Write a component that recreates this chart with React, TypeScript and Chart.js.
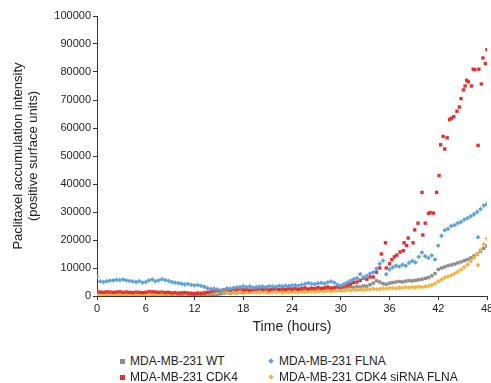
import React, { useEffect, useRef } from "react";
import { Chart, registerables } from "chart.js";

Chart.register(...registerables);

// Sampling times (hours) for the regularly measured series
const timeHours = [
  0, 0.4, 0.8, 1.2, 1.6, 2, 2.4, 2.8, 3.2, 3.6,
  4, 4.4, 4.8, 5.2, 5.6, 6, 6.4, 6.8, 7.2, 7.6,
  8, 8.4, 8.8, 9.2, 9.6, 10, 10.4, 10.8, 11.2, 11.6,
  12, 12.4, 12.8, 13.2, 13.6, 14, 14.4, 14.8, 15.2, 15.6,
  16, 16.4, 16.8, 17.2, 17.6, 18, 18.4, 18.8, 19.2, 19.6,
  20, 20.4, 20.8, 21.2, 21.6, 22, 22.4, 22.8, 23.2, 23.6,
  24, 24.4, 24.8, 25.2, 25.6, 26, 26.4, 26.8, 27.2, 27.6,
  28, 28.4, 28.8, 29.2, 29.6, 30, 30.4, 30.8, 31.2, 31.6,
  32, 32.4, 32.8, 33.2, 33.6, 34, 34.4, 34.8, 35.2, 35.6,
  36, 36.4, 36.8, 37.2, 37.6, 38, 38.4, 38.8, 39.2, 39.6,
  40, 40.4, 40.8, 41.2, 41.6, 42, 42.4, 42.8, 43.2, 43.6,
  44, 44.4, 44.8, 45.2, 45.6, 46, 46.4, 46.8, 47.2, 47.6,
  48,
];

// Values in thousands of units
const wtValues = [
  0.6, 0.5, 0.5, 0.4, 0.5, 0.4, 0.5, 0.4, 0.4, 0.5,
  0.4, 0.5, 0.4, 0.4, 0.5, 0.4, 0.3, 0.4, 0.4, 0.5,
  0.4, 0.3, 0.4, 0.3, 0.4, 0.3, 0.4, 0.3, 0.4, 0.4,
  0.3, 0.3, 0.4, 0.3, 0.4, 0.5, 0.4, 0.6, 0.8, 1.0,
  1.2, 1.0, 1.3, 1.1, 1.4, 1.2, 1.5, 1.3, 1.6, 1.5,
  1.7, 1.6, 1.8, 1.7, 1.9, 1.8, 2.0, 1.9, 2.1, 2.0,
  2.2, 2.1, 2.3, 2.2, 2.4, 2.3, 2.5, 2.6, 2.4, 2.7,
  2.6, 2.8, 2.7, 2.9, 3.0, 2.8, 3.1, 3.2, 3.3, 3.0,
  3.4, 3.2, 3.6, 3.5, 4.0, 4.6, 5.4, 5.0, 4.4, 4.2,
  4.6, 4.8, 5.0, 5.2, 5.0, 5.3, 5.5, 5.4, 5.6, 5.8,
  6.0, 6.3, 6.6, 7.2, 8.0, 9.5, 10.0, 10.4, 10.8, 11.1,
  11.4, 11.8, 12.2, 12.6, 13.0, 13.6, 14.3, 15.0, 16.0, 17.0,
  17.8,
];

const flnaValues = [
  6.8, 5.2, 5.0, 5.3, 5.5, 5.6, 5.8, 5.7, 5.9, 5.6,
  5.4, 5.2, 5.0, 5.3, 4.8, 5.0, 5.6, 5.9, 5.3, 5.6,
  6.0, 5.7, 5.4, 5.0, 4.8, 4.6, 4.4, 4.1, 4.3, 4.0,
  3.8, 3.9, 3.6, 3.3, 2.8, 2.5, 2.6, 2.4, 2.0, 2.1,
  2.7, 2.6, 2.9, 3.1, 3.2, 3.5, 3.2, 3.4, 3.0, 3.2,
  3.3, 3.4, 3.2, 3.5, 3.4, 3.3, 3.6, 3.5, 3.7, 3.6,
  3.8, 3.9, 3.7, 4.0, 4.3, 4.6, 4.4, 4.2, 4.5, 4.7,
  4.4, 4.9, 5.2, 4.8, 4.0, 3.7, 4.2, 4.8, 5.5, 6.0,
  6.4, 7.8, 6.6, 7.2, 8.0, 8.5, 9.8, 11.5, 12.6, 7.8,
  9.5, 10.2, 10.8, 10.5, 11.2, 10.8, 11.8, 12.5, 12.0, 14.0,
  15.5, 14.2, 13.6, 14.5, 13.0, 18.0, 21.5, 23.5, 24.0, 25.0,
  25.3, 26.0, 26.5, 27.3, 27.8, 28.5, 29.2, 30.0, 31.0, 32.3,
  32.8,
];
const flnaExtraTimes = [46.9];
const flnaExtraValues = [21.0];

const sirnaValues = [
  0.4, 0.5, 0.5, 0.6, 0.5, 0.6, 0.5, 0.6, 0.5, 0.6,
  0.5, 0.6, 0.5, 0.6, 0.5, 0.6, 0.5, 0.6, 0.7, 0.6,
  0.6, 0.7, 0.6, 0.8, 0.7, 0.9, 1.0, 0.8, 1.0, 1.1,
  1.0, 1.2, 1.1, 1.3, 1.0, 1.2, 1.4, 1.3, 1.6, 1.5,
  1.4, 1.3, 1.5, 1.2, 1.4, 1.6, 1.3, 1.5, 1.4, 1.3,
  1.2, 1.4, 1.3, 1.2, 1.4, 1.3, 1.5, 1.2, 1.4, 1.3,
  1.4, 1.5, 1.3, 1.6, 1.4, 1.5, 1.7, 1.5, 1.6, 1.8,
  1.6, 1.8, 1.7, 1.9, 1.8, 2.0, 1.9, 2.1, 2.0, 2.2,
  2.1, 2.3, 2.2, 2.4, 2.3, 2.6, 2.4, 2.5, 2.7, 2.6,
  2.8, 2.9, 2.7, 3.0, 2.9, 3.1, 3.0, 3.2, 3.1, 3.3,
  3.2, 3.4, 3.6, 3.9, 4.4, 5.2, 5.9, 6.6, 7.0, 7.4,
  8.0, 8.6, 9.4, 10.3, 11.2, 12.4, 13.6, 15.0, 16.5, 18.5,
  20.5,
];
const sirnaExtraTimes = [46.9];
const sirnaExtraValues = [11.0];

// CDK4: regular sampling up to 34.8 h, then sparse readings
const cdk4Times = [
  0, 0.4, 0.8, 1.2, 1.6, 2, 2.4, 2.8, 3.2, 3.6,
  4, 4.4, 4.8, 5.2, 5.6, 6, 6.4, 6.8, 7.2, 7.6,
  8, 8.4, 8.8, 9.2, 9.6, 10, 10.4, 10.8, 11.2, 11.6,
  12, 12.4, 12.8, 13.2, 13.6, 14, 14.4, 14.8, 15.2, 15.6,
  16, 16.4, 16.8, 17.2, 17.6, 18, 18.4, 18.8, 19.2, 19.6,
  20, 20.4, 20.8, 21.2, 21.6, 22, 22.4, 22.8, 23.2, 23.6,
  24, 24.4, 24.8, 25.2, 25.6, 26, 26.4, 26.8, 27.2, 27.6,
  28, 28.4, 28.8, 29.2, 29.6, 30, 30.4, 30.8, 31.2, 31.6,
  32, 32.4, 32.8, 33.2, 33.6, 34, 34.4, 34.8,
  35.0, 35.5, 35.6, 36.0, 36.3, 36.6, 36.9, 37.3, 37.7, 37.8,
  38.1, 38.3, 38.9, 39.1, 39.5, 40.0, 40.1, 40.4, 40.8, 41.0,
  41.4, 41.8, 42.1, 42.3, 42.6, 42.8, 43.1, 43.4, 43.6, 43.9,
  44.3, 44.6, 44.8, 45.1, 45.3, 45.5, 45.7, 46.1, 46.3, 46.5,
  46.9, 47.0, 47.3, 47.5, 47.8, 48.0,
];
const cdk4Values = [
  1.6, 1.4, 1.3, 1.5, 1.4, 1.3, 1.4, 1.5, 1.3, 1.4,
  1.3, 1.2, 1.4, 1.3, 1.2, 1.3, 1.6, 1.5, 1.4, 1.3,
  1.4, 1.2, 1.3, 1.1, 1.2, 1.0, 1.1, 1.2, 1.0, 0.9,
  0.8, 1.0, 0.9, 1.1, 1.3, 1.5, 1.8, 2.0, 1.9, 2.2,
  2.4, 2.1, 2.5, 2.3, 2.6, 2.2, 2.4, 2.1, 2.3, 2.5,
  2.8, 2.4, 2.6, 2.2, 2.5, 2.7, 2.3, 2.6, 2.4, 2.8,
  2.5, 2.7, 2.4, 2.6, 2.9, 2.5, 2.8, 2.6, 3.0, 2.7,
  2.9, 3.2, 2.8, 3.0, 3.4, 3.1, 3.6, 3.9, 4.3, 4.8,
  5.0, 5.6, 6.4, 6.0, 6.8, 6.8, 8.5, 10.0,
  15.0, 19.0, 10.0, 11.5, 13.0, 14.0, 14.6, 15.7, 16.2, 19.0,
  18.0, 20.7, 19.0, 23.6, 26.0, 37.0, 21.8, 26.0, 29.5, 29.8,
  29.6, 37.0, 43.0, 54.0, 57.0, 52.5, 56.5, 63.0, 63.5, 64.0,
  66.0, 67.5, 70.5, 73.6, 75.0, 77.0, 76.5, 75.0, 81.0, 80.8,
  53.8, 81.0, 75.7, 85.0, 83.0, 88.0,
];

const yTicks = [0, 10000, 20000, 30000, 40000, 50000, 60000, 70000, 80000, 90000, 100000];
const xTicks = [0, 6, 12, 18, 24, 30, 36, 42, 48];

const seriesNames = [
  "MDA-MB-231 WT",
  "MDA-MB-231 FLNA",
  "MDA-MB-231 CDK4",
  "MDA-MB-231 CDK4 siRNA FLNA",
];

const COLORS = {
  wt: "#8e8e8e",
  flna: "#5ea3dc",
  cdk4: "#e4302c",
  sirna: "#f7b23b",
};

function pts(times: number[], vals: number[]) {
  return times.map((t, i) => ({ x: t, y: vals[i] * 1000 }));
}

const FONT = "'Liberation Sans', Arial, Helvetica, sans-serif";

export default function App() {
  const ref = useRef<HTMLCanvasElement | null>(null);

  useEffect(() => {
    if (!ref.current) return;
    const mk = (label: string, data: any[], color: string, style: string, radius: number, order: number) => ({
      type: "scatter" as const,
      label,
      data,
      backgroundColor: color,
      borderColor: color,
      borderWidth: 0,
      pointStyle: style,
      pointRadius: radius,
      pointHoverRadius: radius,
      order,
    });
    const chart = new Chart(ref.current, {
      type: "scatter",
      data: {
        datasets: [
          mk(seriesNames[1], pts(timeHours, flnaValues).concat(pts(flnaExtraTimes, flnaExtraValues)), COLORS.flna, "rectRot", 2.4, 1),
          mk(seriesNames[2], pts(cdk4Times, cdk4Values), COLORS.cdk4, "rect", 2.4, 2),
          mk(seriesNames[3], pts(timeHours, sirnaValues).concat(pts(sirnaExtraTimes, sirnaExtraValues)), COLORS.sirna, "rectRot", 2.4, 3),
          mk(seriesNames[0], pts(timeHours, wtValues), COLORS.wt, "rect", 2.4, 4),
        ] as any,
      },
      options: {
        responsive: false,
        animation: false,
        layout: { padding: { left: 6, top: 16, right: 4, bottom: 4 } },
        plugins: {
          legend: { display: false },
          tooltip: { enabled: false },
        },
        scales: {
          x: {
            type: "linear",
            min: 0,
            max: 48,
            afterBuildTicks: (s: any) => {
              s.ticks = xTicks.map((v) => ({ value: v }));
            },
            afterFit: (s: any) => {
              s.height = 40;
              s.paddingRight = 0;
            },
            ticks: {
              color: "#222",
              font: { family: FONT, size: 11 },
              padding: 2,
              maxRotation: 0,
              callback: (v: any) => String(v),
            },
            grid: {
              display: true,
              drawOnChartArea: false,
              drawTicks: true,
              tickLength: 4,
              color: "#333",
            },
            border: { display: true, color: "#333", width: 1 },
            title: {
              display: true,
              text: "Time (hours)",
              color: "#222",
              font: { family: FONT, size: 14 },
              padding: { top: 0, bottom: 0 },
            },
          },
          y: {
            type: "linear",
            min: 0,
            max: 100000,
            afterBuildTicks: (s: any) => {
              s.ticks = yTicks.map((v) => ({ value: v }));
            },
            afterFit: (s: any) => {
              s.width = 91;
            },
            ticks: {
              color: "#222",
              font: { family: FONT, size: 11 },
              padding: 2,
              callback: (v: any) => String(v),
            },
            grid: {
              display: true,
              drawOnChartArea: false,
              drawTicks: true,
              tickLength: 4,
              color: "#333",
            },
            border: { display: true, color: "#333", width: 1 },
            title: {
              display: true,
              text: ["Paclitaxel accumulation intensity", "(positive surface units)"],
              color: "#222",
              font: { family: FONT, size: 13, lineHeight: 1.15 },
              padding: { top: 5, bottom: 0 },
            },
          },
        },
      },
    });
    return () => chart.destroy();
  }, []);

  const legendItems = [
    { name: seriesNames[0], color: COLORS.wt, diamond: false, left: 120, top: 354 },
    { name: seriesNames[1], color: COLORS.flna, diamond: true, left: 268, top: 354 },
    { name: seriesNames[2], color: COLORS.cdk4, diamond: false, left: 120, top: 370 },
    { name: seriesNames[3], color: COLORS.sirna, diamond: true, left: 268, top: 370 },
  ];

  return (
    <div
      style={{
        position: "fixed",
        left: 0,
        top: 0,
        width: 491,
        height: 383,
        background: "#fff",
        fontFamily: FONT,
      }}
    >
      <canvas ref={ref} width={491} height={340} style={{ position: "absolute", left: 0, top: 0 }} />
      {legendItems.map((it) => (
        <div
          key={it.name}
          style={{
            position: "absolute",
            left: it.left,
            top: it.top,
            height: 14,
            display: "flex",
            alignItems: "center",
            fontSize: 12,
            color: "#222",
            whiteSpace: "nowrap",
            lineHeight: "14px",
          }}
        >
          <span
            style={{
              display: "inline-block",
              width: it.diamond ? 4 : 5,
              height: it.diamond ? 4 : 5,
              background: it.color,
              transform: it.diamond ? "rotate(45deg)" : "none",
              marginRight: it.diamond ? 6 : 5,
              marginLeft: it.diamond ? 1 : 0,
            }}
          />
          <span>{it.name}</span>
        </div>
      ))}
    </div>
  );
}
